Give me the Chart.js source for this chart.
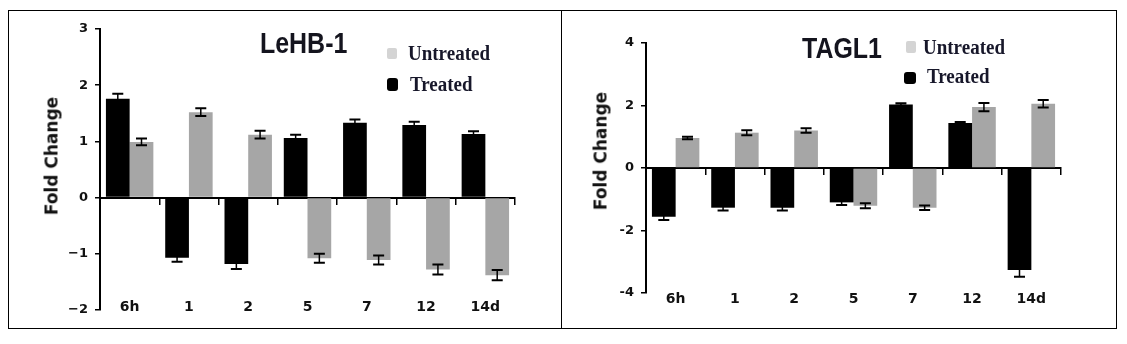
<!DOCTYPE html>
<html>
<head>
<meta charset="utf-8">
<script src="https://cdn.jsdelivr.net/npm/chart.js@4.4.0/dist/chart.umd.min.js"></script>
<style>
html,body{margin:0;padding:0;background:#fff;}
#wrap{position:relative;width:1127px;height:344px;overflow:hidden;background:#fff;}
.panel{position:absolute;top:10px;height:319px;border:1px solid #000;box-sizing:border-box;}
.panel canvas{position:absolute;left:0;top:0;}
.ttl{position:absolute;font-family:'Liberation Sans',Arial,sans-serif;font-weight:bold;font-size:29px;line-height:1;color:#14141e;transform:scaleX(0.86);transform-origin:0 0;white-space:nowrap;}
.lg{position:absolute;font-family:'Liberation Serif','Times New Roman',serif;font-weight:bold;font-size:20px;line-height:1;color:#17172a;transform:scaleX(0.95);transform-origin:0 0;white-space:nowrap;}
.mk{position:absolute;}
.yt{position:absolute;font-family:'DejaVu Sans',sans-serif;font-weight:bold;font-size:17px;line-height:1;color:#111;white-space:nowrap;transform:translate(-50%,-50%) rotate(-90deg);}
</style>
</head>
<body>
<div id="wrap">
  <div class="panel" style="left:8px;width:554px;"><canvas id="c1" width="552" height="317" style="width:552px;height:317px;"></canvas></div>
  <div class="panel" style="left:561px;width:556px;"><canvas id="c2" width="554" height="317" style="width:554px;height:317px;"></canvas></div>

  <div class="ttl" style="left:260px;top:28.5px;">LeHB-1</div>
  <div class="mk" style="left:387px;top:48px;width:10px;height:11px;background:#d4d4d4;border-radius:2px;"></div>
  <div class="lg" style="left:408px;top:43.25px;">Untreated</div>
  <div class="mk" style="left:387px;top:78px;width:11px;height:13px;background:#000;border-radius:3px;"></div>
  <div class="lg" style="left:410px;top:74.25px;">Treated</div>
  <div class="yt" style="left:52px;top:156px;">Fold Change</div>

  <div class="ttl" style="left:802px;top:33.5px;">TAGL1</div>
  <div class="mk" style="left:906px;top:41px;width:10px;height:12px;background:#d4d4d4;border-radius:2px;"></div>
  <div class="lg" style="left:923px;top:37.25px;">Untreated</div>
  <div class="mk" style="left:904px;top:72px;width:12px;height:12px;background:#000;border-radius:3px;"></div>
  <div class="lg" style="left:927px;top:66.25px;">Treated</div>
  <div class="yt" style="left:601px;top:151px;">Fold Change</div>
</div>
<script>
// ---- data ----
const timePoints = ['6h', '1', '2', '5', '7', '12', '14d'];

// LeHB-1
const lehbTreated      = [1.76, -1.07, -1.18, 1.06, 1.33, 1.29, 1.13];
const lehbTreatedErr   = [0.09, 0.07, 0.09, 0.06, 0.06, 0.06, 0.05];
const lehbUntreated    = [0.99, 1.52, 1.12, -1.08, -1.11, -1.28, -1.38];
const lehbUntreatedErr = [0.06, 0.07, 0.07, 0.08, 0.08, 0.09, 0.09];
const lehbYTicks = [-2, -1, 0, 1, 2, 3];

// TAGL1
const taglTreated      = [-1.56, -1.27, -1.27, -1.10, 2.03, 1.44, -3.26];
const taglTreatedErr   = [0.10, 0.09, 0.09, 0.08, 0.04, 0.03, 0.22];
const taglUntreated    = [0.96, 1.13, 1.20, -1.21, -1.27, 1.95, 2.06];
const taglUntreatedErr = [0.04, 0.08, 0.07, 0.08, 0.07, 0.13, 0.12];
const taglYTicks = [-4, -2, 0, 2, 4];

const seriesNames = ['Treated', 'Untreated'];
const seriesColors = ['#000000', '#a6a6a6'];

// ---- error bars plugin ----
const errorBarPlugin = {
  id: 'errorBars',
  afterDatasetsDraw(chart) {
    const ctx = chart.ctx, ys = chart.scales.y;
    ctx.save();
    ctx.strokeStyle = '#000';
    chart.data.datasets.forEach((ds, di) => {
      const meta = chart.getDatasetMeta(di);
      meta.data.forEach((bar, i) => {
        const v = ds.data[i], e = ds.errors[i];
        const x = bar.x;
        const yTop = ys.getPixelForValue(v + e);
        const yBot = ys.getPixelForValue(v - e);
        const hw = 5.5;
        ctx.lineWidth = 1.5;
        ctx.beginPath(); ctx.moveTo(x, yTop); ctx.lineTo(x, yBot); ctx.stroke();
        ctx.lineWidth = 2;
        ctx.beginPath();
        ctx.moveTo(x - hw, yTop); ctx.lineTo(x + hw, yTop);
        ctx.moveTo(x - hw, yBot); ctx.lineTo(x + hw, yBot);
        ctx.stroke();
      });
    });
    ctx.restore();
  }
};

function makeChart(id, treated, tErr, untreated, uErr, yTicks, pad, labelPad, fmt) {
  const values = [treated, untreated], errs = [tErr, uErr];
  return new Chart(document.getElementById(id), {
    type: 'bar',
    data: {
      labels: timePoints,
      datasets: seriesNames.map((name, k) => ({
        label: name,
        data: values[k],
        errors: errs[k],
        xAxisID: 'x',
        yAxisID: 'y',
        backgroundColor: seriesColors[k],
        borderWidth: 0,
        barPercentage: 1,
        categoryPercentage: 0.8
      }))
    },
    options: {
      responsive: false,
      animation: false,
      devicePixelRatio: 1,
      layout: { padding: pad },
      plugins: { legend: { display: false }, tooltip: { enabled: false }, title: { display: false } },
      scales: {
        x: {
          type: 'category',
          position: { y: 0 },
          offset: true,
          z: 1,
          grid: { display: true, drawOnChartArea: false, drawTicks: true, tickLength: 6, offset: true, color: '#000', lineWidth: 1.5 },
          border: { display: true, color: '#000', width: 2 },
          ticks: { display: false }
        },
        xl: {
          type: 'category',
          position: { y: yTicks[0] },
          offset: true,
          grid: { display: false, drawTicks: false },
          border: { display: false },
          ticks: { padding: labelPad, autoSkip: false, maxRotation: 0, color: '#111',
                   font: { family: 'DejaVu Sans', weight: 'bold', size: 14 } }
        },
        y: {
          position: 'left',
          min: yTicks[0],
          max: yTicks[yTicks.length - 1],
          grid: { display: true, drawOnChartArea: false, drawTicks: true, tickLength: 5, color: '#000', lineWidth: 1.5 },
          border: { display: true, color: '#000', width: 2 },
          ticks: { padding: 7, color: '#111', font: { family: 'DejaVu Sans', weight: 'bold', size: 13 },
                   callback: fmt },
          afterBuildTicks: s => { s.ticks = yTicks.map(v => ({ value: v })); },
          afterFit: s => { s.width = 40; }
        }
      }
    },
    plugins: [errorBarPlugin]
  });
}

makeChart('c1', lehbTreated, lehbTreatedErr, lehbUntreated, lehbUntreatedErr, lehbYTicks,
  { left: 51, right: 46, top: 18, bottom: 18 }, -11,
  v => (v < 0 ? '\u2212' + Math.abs(v) : String(v)));

makeChart('c2', taglTreated, taglTreatedErr, taglUntreated, taglUntreatedErr, taglYTicks,
  { left: 44, right: 55, top: 32, bottom: 35 }, -2,
  v => String(v));
</script>
</body>
</html>
